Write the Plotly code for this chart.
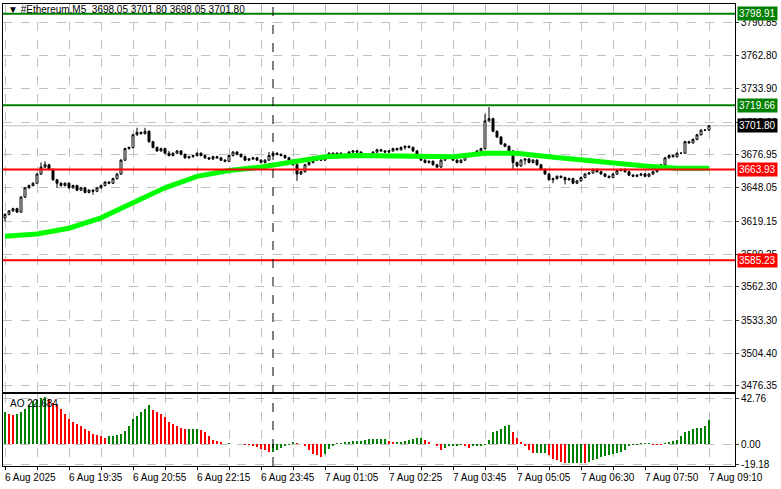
import plotly.graph_objects as go

closes = [3625,3628,3630,3627,3640,3648,3650,3652,
3660,3666,3668,3664,3655,3652,3650,3652,
3648,3650,3646,3648,3644,3646,3645,3648,
3650,3653,3652,3656,3660,3672,3682,3683,
3694,3696,3695,3697,3688,3683,3680,3682,
3678,3676,3678,3680,3677,3674,3675,3676,
3678,3676,3674,3673,3675,3674,3672,3671,
3676,3679,3677,3675,3672,3673,3674,3672,
3670,3672,3676,3678,3677,3676,3674,3672,
3668,3660,3662,3668,3670,3672,3673,3672,
3676,3678,3677,3678,3676,3677,3679,3680,
3679,3677,3676,3677,3679,3681,3680,3679,
3680,3682,3681,3683,3684,3683,3680,3676,
3672,3670,3671,3668,3666,3672,3676,3675,
3672,3670,3672,3675,3677,3678,3680,3682,
3706,3708,3697,3692,3686,3684,3680,3670,
3667,3672,3673,3670,3672,3668,3664,3660,
3655,3656,3658,3657,3655,3656,3652,3654,
3657,3660,3661,3664,3662,3660,3658,3657,
3660,3663,3664,3662,3659,3658,3659,3660,
3658,3660,3662,3664,3668,3674,3676,3675,
3678,3678,3688,3687,3690,3694,3698,3698.05,
3701.80]
first_open = 3622
wick_up = {9: 4, 10: 3, 33: 4, 35: 3, 73: 2, 120: 6, 121: 10, 41: 2, 66: 3}
wick_dn = {0: 3, 13: 4, 22: 3, 73: 6, 127: 6, 130: 4, 137: 3, 140: 4, 100: 2}

ma_idx = list(range(0, 177, 8))
ma_vals = [3606,3608,3613,3622,3635,3648,3658,3663,3666,3671,3675,3676,
           3676,3675,3675,3678,3678,3675,3672,3669,3667,3665,3665]

ao = [30,28,27,28,30,33,36,40,41,43,
44,42,38,36,33,28,23,20,19,17,
14,12,9,8,7,6,7,7,8,9,
12,17,23,26,30,33,36,32,30,28,
25,20,19,17,15,14,14,14,14,13,
11,7,4,3,1,0,0.2,0,0,0,
-0.5,-0.6,-2,-3,-4.5,-6,-7,-7,-6,-4,
-1.6,-0.6,1,0.5,0,-2,-5.5,-9,-10,-12,
-9,-5,-1,0.2,0.3,1,2,2.6,2.8,3.2,
4,5,5,5,5,5,2.6,2.3,2.3,2.3,
2.6,3.5,5,5.5,6,4,1,0,-2,-5.5,
-4,-2,-1.3,-1,-0.6,-2,-4,-2,-1.8,-1.6,
-0.6,4,11,12,14,17,18,11,6,1,
-2,-5.5,-8,-8,-8,-8,-10,-13.5,-15,-17,
-18,-18,-17.7,-17.7,-17.7,-18,-17,-14.5,-13.5,-12.5,
-11,-10,-9,-8,-7,-5.5,-2,-0.6,-0.3,0.3,
0.3,0.3,-0.3,-0.4,-0.6,0.3,1,3.2,4,7,
11,12,14,15,15,17,22.684]

levels = [(3798.91, "#008000"), (3719.66, "#008000"), (3663.93, "#ff0000"), (3585.23, "#ff0000")]
price_ticks = [3790.85,3762.80,3733.90,3705.00,3676.95,3648.05,3619.15,3590.25,3562.30,3533.30,3504.40,3476.35]
ao_ticks = [42.76, 0.00, -19.18]
x_labels = ["6 Aug 2025","6 Aug 19:35","6 Aug 20:55","6 Aug 22:15","6 Aug 23:45","7 Aug 01:05",
            "7 Aug 02:25","7 Aug 03:45","7 Aug 05:05","7 Aug 06:30","7 Aug 07:50","7 Aug 09:10"]
title_text = "▼ #Ethereum,M5  3698.05 3701.80 3698.05 3701.80"
last_price = 3701.80
cursor_bar = 67

n = len(closes)
idx = list(range(n))
opens = [first_open] + closes[:-1]
highs = [max(o, c) + wick_up.get(i, 0.8) for i, (o, c) in enumerate(zip(opens, closes))]
lows = [min(o, c) - wick_dn.get(i, 0.8) for i, (o, c) in enumerate(zip(opens, closes))]
ao_colors = ["#008000" if i == 0 or ao[i] >= ao[i-1] else "#ff0000" for i in range(len(ao))]

FONT = "Liberation Sans"
fig = go.Figure()
fig.add_trace(go.Candlestick(x=idx, open=opens, high=highs, low=lows, close=closes,
    increasing=dict(line=dict(color="black", width=1), fillcolor="white"),
    decreasing=dict(line=dict(color="black", width=1), fillcolor="black"),
    whiskerwidth=0, showlegend=False, hoverinfo="skip", xaxis="x", yaxis="y"))
fig.add_trace(go.Scatter(x=ma_idx, y=ma_vals, mode="lines", line=dict(color="#00ff00", width=5),
    showlegend=False, xaxis="x", yaxis="y"))
fig.add_trace(go.Bar(x=list(range(len(ao))), y=ao, marker=dict(color=ao_colors, line_width=0),
    width=0.25, showlegend=False, xaxis="x2", yaxis="y2"))

shapes = []
for v, col in levels:
    shapes.append(dict(type="line", xref="x domain", yref="y", x0=0, x1=1, y0=v, y1=v,
                       line=dict(color=col, width=2)))
shapes.append(dict(type="line", xref="x domain", yref="y", x0=0, x1=1, y0=last_price, y1=last_price,
                   line=dict(color="#c0c0c0", width=1), layer="below"))
shapes.append(dict(type="line", xref="x", yref="paper", x0=cursor_bar, x1=cursor_bar,
                   y0=1-466/489, y1=1-4/489, line=dict(color="black", width=1, dash="dash")))

ann = []
for v, col in levels:
    ann.append(dict(xref="paper", yref="y", x=737/781, y=v, text=f"{v:.2f}", showarrow=False,
        xanchor="left", bgcolor=col, font=dict(color="white", size=10, family=FONT), borderpad=1))
ann.append(dict(xref="paper", yref="y", x=737/781, y=last_price, text=f"{last_price:.2f}", showarrow=False,
    xanchor="left", bgcolor="black", font=dict(color="white", size=10, family=FONT), borderpad=1))
for v in ao_ticks:
    ann.append(dict(xref="paper", yref="y2", x=739/781, y=v, text=f"{v:.2f}", showarrow=False,
        xanchor="left", yanchor="middle", font=dict(color="black", size=10, family=FONT)))
for k, t in enumerate(x_labels):
    ann.append(dict(xref="x", yref="paper", x=k*16-0.5, y=1-470/489, text=t, showarrow=False,
        xanchor="left", yanchor="top", font=dict(color="black", size=10, family=FONT)))
ann.append(dict(xref="paper", yref="paper", x=6/781, y=1-2/489, text=title_text, showarrow=False,
    xanchor="left", yanchor="top", font=dict(color="black", size=10, family=FONT)))
ann.append(dict(xref="paper", yref="paper", x=8/781, y=1-396/489, text="AO 22.684", showarrow=False,
    xanchor="left", yanchor="top", font=dict(color="black", size=10, family=FONT)))

xd = [3/781, 735/781]
common_x = dict(domain=xd, range=[-0.5, 182.5], showticklabels=False, showline=True, mirror=True,
    linecolor="black", tickvals=list(range(0, 183, 8)), showgrid=True, gridcolor="#c0c0c0",
    griddash="dash", zeroline=False, automargin=False)
yfont = dict(size=10, family=FONT, color="black")
fig.update_layout(
    width=781, height=489, margin=dict(l=0, r=0, t=0, b=0, autoexpand=False),
    paper_bgcolor="white", plot_bgcolor="white",
    xaxis=dict(**common_x, rangeslider=dict(visible=False), anchor="y", ticks=""),
    xaxis2=dict(**common_x, anchor="y2", ticks="outside", ticklen=3, tickcolor="black"),
    yaxis=dict(domain=[1-392/489, 1-4/489], range=[3471.1, 3807.3], side="right", tickvals=price_ticks,
        ticktext=[f"{v:.2f}" for v in price_ticks], showline=True, mirror=True, linecolor="black",
        showgrid=True, gridcolor="#c0c0c0", griddash="dash", zeroline=False, anchor="x",
        ticks="outside", ticklen=3, tickfont=yfont, automargin=False),
    yaxis2=dict(domain=[1-466/489, 1-394/489], range=[-20.45, 46.48], side="right",
        tickvals=ao_ticks, showticklabels=False, showline=True, mirror=True,
        linecolor="black", showgrid=True, gridcolor="#c0c0c0", griddash="dash", zeroline=False,
        anchor="x2", ticks="outside", ticklen=3, automargin=False),
    shapes=shapes, annotations=ann, bargap=0,
)
fig.write_html("out.html", config={"displayModeBar": False},
               post_script="document.body.style.margin='0';document.body.style.overflow='hidden';")
